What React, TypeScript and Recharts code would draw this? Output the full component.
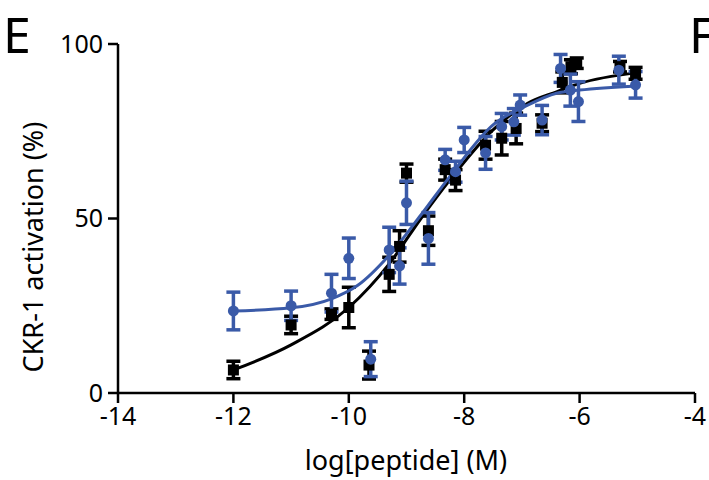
import React from 'react';
import {
  ComposedChart,
  Line,
  Scatter,
  ErrorBar,
  XAxis,
  YAxis,
} from 'recharts';

// x = log[peptide] (M), y = activation (%), err = error bar half-length
const blackX = [-12, -11, -10.3, -10, -9.65, -9.3, -9.12, -9.0, -8.62, -8.33, -8.15, -7.63, -7.35, -7.1, -6.65, -6.3, -6.15, -6.05, -5.3, -5.03];
const blackY = [6.6, 19.5, 22.6, 24.5, 8, 34, 42, 63, 46.5, 64, 61, 71, 73, 75.8, 77.3, 89, 93.5, 94.5, 93.5, 91.6];
const blackErr = [2.5, 2.5, 1.5, 5.8, 4, 4.9, 4.5, 2.6, 4.2, 3, 3, 4, 4.8, 4.4, 2.4, 3, 2, 1.5, 1.5, 1.7];

const blueX = [-12, -11, -10.3, -10, -9.62, -9.3, -9.12, -9.0, -8.62, -8.33, -8.15, -8.0, -7.63, -7.35, -7.14, -7.03, -6.65, -6.33, -6.16, -6.02, -5.32, -5.03];
const blueY = [23.5, 25, 28.6, 38.6, 9.7, 41, 36.4, 54.5, 44.3, 66.8, 63.4, 72.5, 68.8, 76.3, 77.7, 82.5, 78.2, 93, 86.8, 83.5, 92.5, 88.3];
const blueErr = [5.4, 4.2, 5.4, 5.8, 5, 6.5, 5.2, 6.2, 7.4, 3, 3, 3.6, 4.7, 3.8, 3.8, 2.9, 4.2, 4, 4.6, 5.7, 4, 3.8];

// fitted curves
const blackCurveX = [-12, -11, -10, -9.3, -8.75, -8.25, -7.5, -6.9, -6.4, -6.0, -5.0];
const blackCurveY = [6.6, 13.8, 24.5, 37, 50, 61, 75.4, 83, 86.3, 88.7, 91.8];
const blueCurveX = [-12, -11, -10.3, -9.85, -9.3, -8.75, -8.25, -7.5, -6.9, -6.4, -6.0, -5.0];
const blueCurveY = [23.5, 24.4, 27, 30.8, 39.5, 51, 62, 76.8, 82.5, 85.9, 86.8, 88];

const xTicks = [-14, -12, -10, -8, -6, -4];
const yTicks = [0, 50, 100];

const BLUE = '#3a5aa8';
const FONT = '"Noto Sans", sans-serif';

const zip = (xs: number[], ys: number[], es?: number[]) =>
  xs.map((x, i) => ({ x, y: ys[i], err: es ? es[i] : 0 }));

const blackPts = zip(blackX, blackY, blackErr);
const bluePts = zip(blueX, blueY, blueErr);
const blackCurve = zip(blackCurveX, blackCurveY);
const blueCurve = zip(blueCurveX, blueCurveY);

const Square = (props: any) => {
  const { cx, cy } = props;
  if (cx == null || cy == null) return <g />;
  return <rect x={cx - 5.5} y={cy - 5.5} width={11} height={11} fill="#000" />;
};

const Dot = (props: any) => {
  const { cx, cy } = props;
  if (cx == null || cy == null) return <g />;
  return <circle cx={cx} cy={cy} r={5.5} fill={BLUE} />;
};

const tickStyle = { fontSize: 25, fill: '#000', fontFamily: FONT };

export default function App() {
  return (
    <div style={{ position: 'absolute', left: 0, top: 0, width: 709, height: 480, background: '#fff', overflow: 'hidden' }}>
      <ComposedChart
        width={709}
        height={480}
        margin={{ top: 44, right: 14, left: 58, bottom: 27 }}
      >
        <XAxis
          dataKey="x"
          type="number"
          domain={[-14, -4]}
          ticks={xTicks}
          allowDataOverflow
          stroke="#000"
          strokeWidth={2.5}
          tickSize={10}
          tickMargin={4}
          tick={tickStyle}
          height={60}
        />
        <YAxis
          dataKey="y"
          type="number"
          domain={[0, 100]}
          ticks={yTicks}
          stroke="#000"
          strokeWidth={2.5}
          tickSize={10}
          tickMargin={5}
          tick={tickStyle}
          width={60}
        />
        <Line
          data={blackCurve}
          dataKey="y"
          type="monotone"
          stroke="#000"
          strokeWidth={3}
          dot={false}
          activeDot={false}
          isAnimationActive={false}
        />
        <Scatter data={blackPts} dataKey="y" shape={Square} isAnimationActive={false}>
          <ErrorBar dataKey="err" direction="y" width={7} stroke="#000" strokeWidth={3.5} />
        </Scatter>
        <Line
          data={blueCurve}
          dataKey="y"
          type="monotone"
          stroke={BLUE}
          strokeWidth={3}
          dot={false}
          activeDot={false}
          isAnimationActive={false}
        />
        <Scatter data={bluePts} dataKey="y" shape={Dot} isAnimationActive={false}>
          <ErrorBar dataKey="err" direction="y" width={7} stroke={BLUE} strokeWidth={3.5} />
        </Scatter>
      </ComposedChart>
      <div style={{ position: 'absolute', left: 3, top: 4, fontFamily: FONT, fontSize: 50, lineHeight: '60px', color: '#000' }}>E</div>
      <div style={{ position: 'absolute', left: 689, top: 4, fontFamily: FONT, fontSize: 50, lineHeight: '60px', color: '#000' }}>F</div>
      <div
        style={{
          position: 'absolute',
          left: 32,
          top: 247,
          transform: 'translate(-50%, -50%) rotate(-90deg)',
          whiteSpace: 'nowrap',
          fontFamily: FONT,
          fontSize: 27,
          color: '#000',
        }}
      >
        CKR-1 activation (%)
      </div>
      <div
        style={{
          position: 'absolute',
          left: 406,
          top: 460,
          transform: 'translate(-50%, -50%)',
          whiteSpace: 'nowrap',
          fontFamily: FONT,
          fontSize: 27,
          lineHeight: '32px',
          color: '#000',
        }}
      >
        log[peptide] (M)
      </div>
    </div>
  );
}
